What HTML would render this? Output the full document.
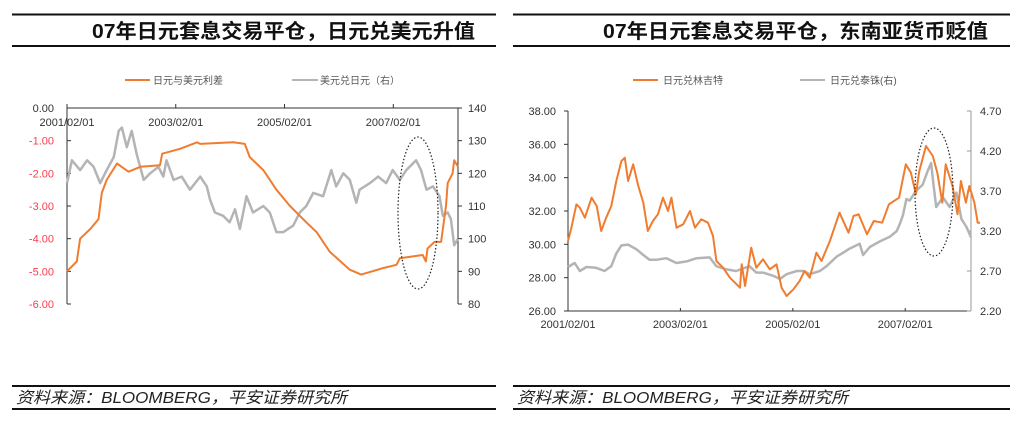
<!DOCTYPE html>
<html><head><meta charset="utf-8">
<style>
body{margin:0;background:#fff;width:1020px;height:424px;overflow:hidden;font-family:"Liberation Sans","Noto Sans CJK SC",sans-serif;}
svg text{font-family:"Liberation Sans","Noto Sans CJK SC",sans-serif;}
</style></head>
<body>
<svg id="s" width="1020" height="424" viewBox="0 0 1020 424" xmlns="http://www.w3.org/2000/svg">
  <g>
    <line x1="12" y1="14.5" x2="496" y2="14.5" stroke="#111" stroke-width="2"/>
    <line x1="12" y1="46" x2="496" y2="46" stroke="#111" stroke-width="2"/>
    <text x="92" y="38" textLength="383" lengthAdjust="spacingAndGlyphs" font-size="20" font-weight="bold" fill="#111">07年日元套息交易平仓，日元兑美元升值</text>
    <line x1="12" y1="386" x2="496" y2="386" stroke="#111" stroke-width="2"/>
    <line x1="12" y1="409" x2="496" y2="409" stroke="#111" stroke-width="2"/>
    <text x="16" y="403" textLength="331" lengthAdjust="spacingAndGlyphs" font-size="16" font-style="italic" fill="#222">资料来源：BLOOMBERG，平安证券研究所</text>
  </g>
  <g>
    <line x1="513" y1="14.5" x2="1010" y2="14.5" stroke="#111" stroke-width="2"/>
    <line x1="513" y1="46" x2="1010" y2="46" stroke="#111" stroke-width="2"/>
    <text x="603" y="38" textLength="385" lengthAdjust="spacingAndGlyphs" font-size="20" font-weight="bold" fill="#111">07年日元套息交易平仓，东南亚货币贬值</text>
    <line x1="513" y1="386" x2="1010" y2="386" stroke="#111" stroke-width="2"/>
    <line x1="513" y1="409" x2="1010" y2="409" stroke="#111" stroke-width="2"/>
    <text x="517" y="403" textLength="331" lengthAdjust="spacingAndGlyphs" font-size="16" font-style="italic" fill="#222">资料来源：BLOOMBERG，平安证券研究所</text>
  </g>
  <g id="c1"></g>
  <g id="c2"></g>
</svg>
<script>
// ---- Left chart data (time in years since 2001/02/01) ----
const leftDiffT = [0,0.18,0.24,0.43,0.58,0.64,0.73,0.92,1.13,1.35,1.71,1.75,2.08,2.39,2.45,3.06,3.27,3.36,3.61,3.85,4.10,4.40,4.59,4.83,5.20,5.41,5.81,6.06,6.12,6.54,6.60,6.63,6.76,6.88,6.97,7.00,7.09,7.12,7.19];
const leftDiffV = [-5.0,-4.7,-4.0,-3.7,-3.4,-2.6,-2.2,-1.7,-1.95,-1.8,-1.75,-1.4,-1.25,-1.05,-1.1,-1.05,-1.1,-1.5,-1.9,-2.5,-3.0,-3.5,-3.8,-4.4,-4.95,-5.1,-4.9,-4.8,-4.6,-4.5,-4.7,-4.3,-4.1,-4.1,-3.0,-2.3,-2.0,-1.6,-1.8];
const leftFxT = [0,0.09,0.24,0.37,0.49,0.61,0.73,0.86,0.95,1.01,1.10,1.19,1.28,1.41,1.53,1.68,1.77,1.83,1.96,2.11,2.26,2.45,2.57,2.63,2.72,2.87,2.99,3.09,3.18,3.30,3.42,3.61,3.73,3.85,3.98,4.16,4.28,4.40,4.53,4.71,4.86,4.95,5.08,5.20,5.32,5.38,5.57,5.72,5.87,5.99,6.12,6.24,6.42,6.51,6.61,6.73,6.85,6.91,7.00,7.06,7.12,7.19];
const leftFxV = [117,124,121,124,122,117,121,125,133,134,128,133,126,118,120,122,119,124,118,119,115,119,116,112,108,107,105,109,103,113,108,110,108,102,102,104,108,110,114,113,121,116,120,118,111,115,117,119,117,121,118,121,124,121,115,116,113,107,108,106,98,100];
const leftYTicks = ["0.00","-1.00","-2.00","-3.00","-4.00","-5.00","-6.00"];
const leftY2Ticks = ["140","130","120","110","100","90","80"];
const xTickLabels = ["2001/02/01","2003/02/01","2005/02/01","2007/02/01"];
const xTickYears = [0,2,4,6];

// ---- Right chart data ----
const rightMyrT = [0,0.06,0.15,0.21,0.30,0.42,0.51,0.59,0.68,0.77,0.86,0.95,1.01,1.07,1.16,1.25,1.34,1.42,1.51,1.60,1.69,1.78,1.84,1.93,2.05,2.17,2.26,2.37,2.49,2.58,2.64,2.76,2.88,3.06,3.09,3.15,3.26,3.35,3.47,3.59,3.71,3.80,3.89,4.01,4.12,4.21,4.30,4.42,4.51,4.66,4.83,4.99,5.08,5.17,5.32,5.44,5.59,5.71,5.89,6.01,6.10,6.19,6.25,6.37,6.49,6.57,6.66,6.72,6.84,6.93,6.99,7.08,7.14,7.23,7.29,7.33];
const rightMyrV = [30.2,31,32.4,32.2,31.6,32.8,32.3,30.8,31.6,32.3,33.8,35.0,35.2,33.8,34.8,33.5,32.5,30.8,31.4,31.8,32.8,32,32.8,31,31.2,32,31,31.5,31.3,30.5,29,28.6,28.0,27.4,28.8,27.5,29.8,28.6,29.1,28.5,28.8,27.4,26.9,27.3,27.8,28.4,28.0,29.5,29.0,30.2,31.9,30.7,31.7,31.8,30.6,31.4,31.3,32.4,32.8,34.8,34.3,33.0,34.4,35.9,35.3,34.3,32.5,34.8,33.5,31.8,33.8,32.5,33.5,32.5,31.3,31.3];
const rightThbT = [0,0.12,0.21,0.33,0.50,0.65,0.77,0.86,0.95,1.07,1.22,1.34,1.45,1.57,1.75,1.93,2.11,2.29,2.52,2.64,2.82,2.99,3.11,3.23,3.35,3.47,3.65,3.77,3.89,4.07,4.19,4.30,4.48,4.60,4.78,4.90,5.01,5.19,5.25,5.37,5.55,5.73,5.85,5.91,5.96,6.02,6.08,6.19,6.31,6.40,6.46,6.50,6.55,6.67,6.79,6.91,7.00,7.09,7.17];
const rightThbV = [2.75,2.80,2.70,2.75,2.74,2.70,2.76,2.92,3.02,3.03,2.97,2.90,2.84,2.84,2.86,2.80,2.82,2.86,2.87,2.76,2.72,2.70,2.73,2.76,2.68,2.68,2.64,2.60,2.66,2.70,2.70,2.66,2.70,2.76,2.88,2.93,2.98,3.04,2.90,3.00,3.07,3.13,3.20,3.30,3.40,3.60,3.58,3.70,3.78,3.95,4.05,3.80,3.50,3.62,3.50,3.68,3.35,3.25,3.12];
const rightYTicks = ["38.00","36.00","34.00","32.00","30.00","28.00","26.00"];
const rightY2Ticks = ["4.70","4.20","3.70","3.20","2.70","2.20"];

const NS="http://www.w3.org/2000/svg";
function mk(parent,tag,attrs,txt){const e=document.createElementNS(NS,tag);for(const k in attrs)e.setAttribute(k,attrs[k]);if(txt!==undefined)e.textContent=txt;parent.appendChild(e);return e;}
function scale(d0,d1,r0,r1){return v=>r0+(v-d0)/(d1-d0)*(r1-r0);}
function pathD(ts,vs,xs,ys){return ts.map((t,i)=>(i?'L':'M')+xs(t).toFixed(1)+','+ys(vs[i]).toFixed(1)).join('');}

// ===== Left chart =====
(function(){
  const g=document.getElementById('c1');
  const X0=67,X1=458,Y0=108,Y1=304;
  const xs=scale(0,7.19,X0,X1);
  const ys=scale(0,-6,Y0,Y1);
  const ys2=scale(140,80,Y0,Y1);
  const lg=mk(g,'g',{});
  
  
  mk(lg,'line',{x1:125,y1:80,x2:150,y2:80,stroke:'#f07c30','stroke-width':2});
  mk(lg,'text',{x:153,y:84,'font-size':10,fill:'#555'},'日元与美元利差');
  mk(lg,'line',{x1:292,y1:80,x2:318,y2:80,stroke:'#b4b4b4','stroke-width':2});
  mk(lg,'text',{x:320,y:84,'font-size':10,fill:'#555'},'美元兑日元（右）');
  mk(g,'line',{x1:X0,y1:Y0,x2:X0,y2:Y1,stroke:'#333'});
  mk(g,'line',{x1:X0,y1:Y0,x2:X1,y2:Y0,stroke:'#333'});
  mk(g,'line',{x1:X1,y1:Y0,x2:X1,y2:Y1,stroke:'#333'});
  leftYTicks.forEach((l,i)=>{const y=ys(-i);
    mk(g,'line',{x1:X0,y1:y,x2:X0+4,y2:y,stroke:'#333'});
    const t=mk(g,'text',{x:54,y:y+4,'font-size':11,'text-anchor':'end',fill:i===0?'#333':'#ff3b4a'},l);
    
    
  });
  leftY2Ticks.forEach((l,i)=>{const y=ys2(+l);
    mk(g,'line',{x1:X1,y1:y,x2:X1+4,y2:y,stroke:'#333'});
    const t=mk(g,'text',{x:468,y:y+4,'font-size':11,fill:'#333'},l);
    
    
  });
  xTickYears.forEach((yr,i)=>{const x=xs(yr);
    mk(g,'line',{x1:x,y1:Y0,x2:x,y2:Y0-4,stroke:'#333'});
    const t=mk(g,'text',{x:x,y:126,'font-size':11,'text-anchor':'middle',fill:'#333'},xTickLabels[i]);
    
    
  });
  const p2=mk(g,'path',{d:pathD(leftFxT,leftFxV,xs,ys2),fill:'none',stroke:'#b4b4b4','stroke-width':2.5,'stroke-linejoin':'round'});
  
  
  const p1=mk(g,'path',{d:pathD(leftDiffT,leftDiffV,xs,ys),fill:'none',stroke:'#f07c30','stroke-width':2,'stroke-linejoin':'round'});
  
  
  const el=mk(g,'ellipse',{cx:418,cy:213,rx:20,ry:76,fill:'none',stroke:'#222','stroke-width':1.2,'stroke-dasharray':'1.5,2'});
  
  
})();

// ===== Right chart =====
(function(){
  const g=document.getElementById('c2');
  const X0=568,X1=971,Y0=111,Y1=311;
  const xs=scale(0,7.17,X0,X1);
  const ys=scale(38,26,Y0,Y1);
  const ys2=scale(4.70,2.20,Y0,Y1);
  const lg=mk(g,'g',{});
  
  
  mk(lg,'line',{x1:633,y1:80,x2:658,y2:80,stroke:'#f07c30','stroke-width':2});
  mk(lg,'text',{x:663,y:84,'font-size':10,fill:'#555'},'日元兑林吉特');
  mk(lg,'line',{x1:800,y1:80,x2:825,y2:80,stroke:'#b4b4b4','stroke-width':2});
  mk(lg,'text',{x:830,y:84,'font-size':10,fill:'#555'},'日元兑泰铢(右)');
  mk(g,'line',{x1:X0,y1:Y0,x2:X0,y2:Y1,stroke:'#333'});
  mk(g,'line',{x1:X0,y1:Y1,x2:X1,y2:Y1,stroke:'#333'});
  mk(g,'line',{x1:X1,y1:Y0,x2:X1,y2:Y1,stroke:'#999'});
  rightYTicks.forEach((l,i)=>{const y=ys(+l);
    mk(g,'line',{x1:X0-4,y1:y,x2:X0,y2:y,stroke:'#333'});
    const t=mk(g,'text',{x:556,y:y+4,'font-size':11,'text-anchor':'end',fill:'#333'},l);
    
    
  });
  rightY2Ticks.forEach((l,i)=>{const y=ys2(+l);
    mk(g,'line',{x1:X1-4,y1:y,x2:X1,y2:y,stroke:'#999'});
    const t=mk(g,'text',{x:980,y:y+4,'font-size':11,fill:'#333'},l);
    
    
  });
  xTickYears.forEach((yr,i)=>{const x=xs(yr);
    mk(g,'line',{x1:x,y1:Y1,x2:x,y2:Y1-3,stroke:'#333'});
    const t=mk(g,'text',{x:x,y:328,'font-size':11,'text-anchor':'middle',fill:'#333'},xTickLabels[i]);
    
    
  });
  const p2=mk(g,'path',{d:pathD(rightThbT,rightThbV,xs,ys2),fill:'none',stroke:'#b4b4b4','stroke-width':2.5,'stroke-linejoin':'round'});
  
  
  const p1=mk(g,'path',{d:pathD(rightMyrT,rightMyrV,xs,ys),fill:'none',stroke:'#f07c30','stroke-width':2,'stroke-linejoin':'round'});
  
  
  const el=mk(g,'ellipse',{cx:934,cy:192,rx:19,ry:64,fill:'none',stroke:'#222','stroke-width':1.2,'stroke-dasharray':'1.5,2'});
  
  
})();
</script>
</body></html>
